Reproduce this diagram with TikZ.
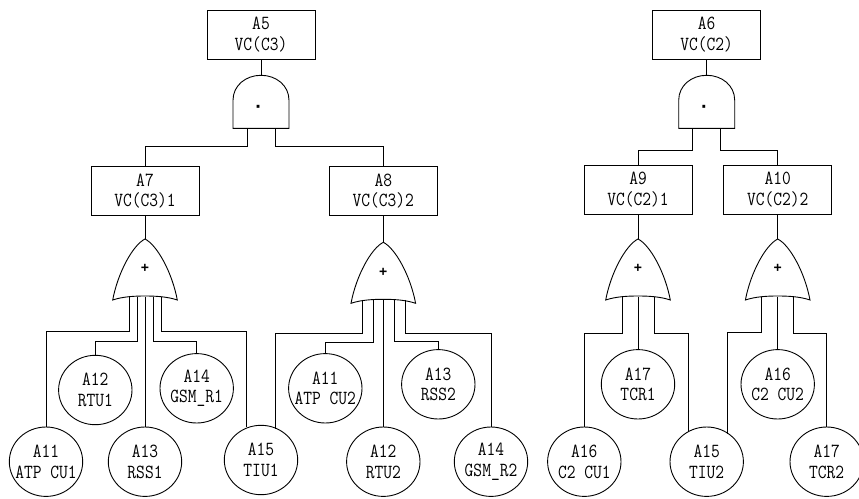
\documentclass[tikz,border=0pt]{standalone}
\usepackage{amsmath, amssymb}
\usepackage{fontspec}
\setmonofont[FakeStretch=0.85]{Latin Modern Mono}
\newfontfamily\signfont{Liberation Sans}
\usepgflibrary{shapes}
\tikzset{
    basic/.style={draw, line width=0.9pt, font=\fontsize{20}{20.7}\selectfont\ttfamily, align=center},
    boxnode/.style={basic, rectangle, inner sep=0pt, minimum width=108pt, minimum height=49pt},
    event/.style={basic, ellipse, inner sep=-13pt, minimum width=73.4pt, minimum height=69.4pt},
    wire/.style={line width=0.9pt},
    pics/andgate/.style={code={
        \draw[wire] (-28,53) -- (-28,25) .. controls (-28,10) and (-15,0) .. (0,0)
            .. controls (15,0) and (28,10) .. (28,25) -- (28,53) -- cycle;
        \node[font=\fontsize{20}{20}\selectfont\signfont\bfseries, inner sep=0pt, anchor=base] (-sign) at (-2.3,37.9) {·};
        \coordinate (-top) at (0,0);
        \coordinate (-l) at (-14,53);
        \coordinate (-r) at (14,53);
    }},
    pics/orgate/.style={code={
        \draw[wire] (0,0) .. controls (-12,6) and (-27,33) .. (-32.3,61)
            .. controls (-22,57.5) and (-10,57) .. (0,57)
            .. controls (10,57) and (22,57.5) .. (32.3,61)
            .. controls (27,33) and (12,6) .. (0,0) -- cycle;
        \node[font=\fontsize{14}{14}\selectfont\signfont\bfseries, inner sep=0pt] (-sign) at (0,29.7) {+};
        \coordinate (-top) at (0,0);
    }}
}
\begin{document}
\begin{tikzpicture}[x=1pt, y=-1pt]
    \useasboundingbox (0,0) rectangle (859,498);

    \node[boxnode] (a5) at (261,34.7) {A5\\VC(C3)};
    \node[boxnode] (a6) at (706.7,34.7) {A6\\VC(C2)};
    \node[boxnode] (a7) at (145,191) {A7\\VC(C3)1};
    \node[boxnode] (a8) at (383.3,191) {A8\\VC(C3)2};
    \node[boxnode] (a9) at (638,189.7) {A9\\VC(C2)1};
    \node[boxnode] (a10) at (777.7,189.7) {A10\\VC(C2)2};

    \pic (and1) at (261,75.3) {andgate};
    \pic (and2) at (706.7,75.3) {andgate};
    \pic (or1) at (145,239) {orgate};
    \pic (or2) at (383.3,242.3) {orgate};
    \pic (or3) at (638,239) {orgate};
    \pic (or4) at (777.7,239) {orgate};

    \node[event] (cu1) at (46,461.7) {A11\\ATP CU1};
    \node[event] (rtu1) at (95.3,390) {A12\\RTU1};
    \node[event] (rss1) at (145,461.7) {A13\\RSS1};
    \node[event] (gsm1) at (196.7,388.3) {A14\\GSM\_R1};
    \node[event] (tiu1) at (261,460) {A15\\TIU1};
    \node[event] (cu2) at (325.3,388.3) {A11\\ATP CU2};
    \node[event] (rtu2) at (383.3,461.7) {A12\\RTU2};
    \node[event] (rss2) at (438.3,384.3) {A13\\RSS2};
    \node[event] (gsm2) at (491,461.7) {A14\\GSM\_R2};
    \node[event] (ccu1) at (584.3,461.7) {A16\\C2 CU1};
    \node[event] (tcr1) at (638,384.3) {A17\\TCR1};
    \node[event] (tiu2) at (706.7,461.7) {A15\\TIU2};
    \node[event] (ccu2) at (777.7,384.3) {A16\\C2 CU2};
    \node[event] (tcr2) at (826.7,461.7) {A17\\TCR2};

    \foreach \n/\x in {a/129,b/137,c/145,d/153.7,e/161.3} \coordinate (p\n) at (\x,296.5);
    \foreach \n/\x in {a/362.3,b/373,c/383.3,d/394.3,e/405.3} \coordinate (q\n) at (\x,299.8);
    \foreach \n/\x in {a/622,c/638,e/654} \coordinate (r\n) at (\x,296.5);
    \foreach \n/\x in {a/761.7,c/777.7,e/793.7} \coordinate (s\n) at (\x,296.5);
    \coordinate (t1) at (246.7,426.5);
    \coordinate (t2) at (275.7,428.5);
    \coordinate (t3) at (688.7,431.5);
    \coordinate (t4) at (727.7,433.5);

    \draw[wire] (a5) -- (and1-top);
    \draw[wire] (and1-l) -- ++(0,17.7) -| (a7);
    \draw[wire] (and1-r) -- ++(0,17.7) -| (a8);
    \draw[wire] (a6) -- (and2-top);
    \draw[wire] (and2-l) -- ++(0,21.7) -| (a9);
    \draw[wire] (and2-r) -- ++(0,21.7) -| (a10);
    \draw[wire] (a7) -- (or1-top);
    \draw[wire] (a8) -- (or2-top);
    \draw[wire] (a9) -- (or3-top);
    \draw[wire] (a10) -- (or4-top);

    \draw[wire] (pa) -- ++(0,35.2) -| (cu1);
    \draw[wire] (pb) -- ++(0,44.5) -| (rtu1);
    \draw[wire] (pc) -- (rss1);
    \draw[wire] (pd) -- ++(0,44.5) -| (gsm1);
    \draw[wire] (pe) -- ++(0,35.2) -| (t1);

    \draw[wire] (qa) -- ++(0,33.5) -| (t2);
    \draw[wire] (qb) -- ++(0,42.5) -| (cu2);
    \draw[wire] (qc) -- (rtu2);
    \draw[wire] (qd) -- ++(0,41.2) -| (rss2);
    \draw[wire] (qe) -- ++(0,33.5) -| (gsm2);

    \draw[wire] (ra) -- ++(0,37.2) -| (ccu1);
    \draw[wire] (rc) -- (tcr1);
    \draw[wire] (re) -- ++(0,36.8) -| (t3);

    \draw[wire] (sa) -- ++(0,35.8) -| (t4);
    \draw[wire] (sc) -- (ccu2);
    \draw[wire] (se) -- ++(0,36.8) -| (tcr2);
\end{tikzpicture}
\end{document}
